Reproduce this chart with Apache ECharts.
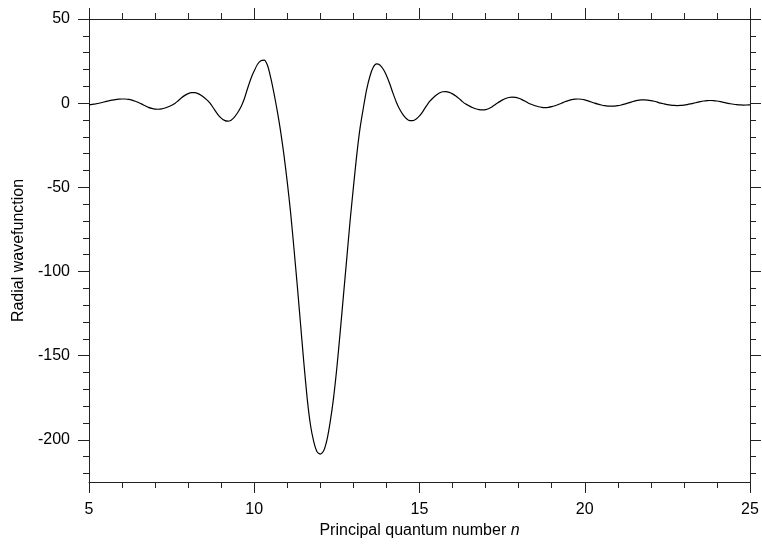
<!DOCTYPE html>
<html>
<head>
<meta charset="utf-8">
<script src="https://cdn.jsdelivr.net/npm/echarts@6/dist/echarts.min.js"></script>
<style>
  html, body { margin: 0; padding: 0; background: #fff; }
  #chart { width: 762px; height: 544px; }
</style>
</head>
<body>
<div id="chart"></div>
<script>
// Principal quantum number n: 5.0 .. 25.0 in steps of 0.1 (201 samples)
var nStart = 5.0;
var nStep = 0.1;
// Radial wavefunction values, one per n sample
var psiValues = [
  // 5.0 - 5.9
  -1.0, -0.7, -0.4, -0.05, 0.43, 0.95, 1.42, 1.82, 2.15, 2.37,
  // 6.0 - 6.9
  2.49, 2.47, 2.23, 1.77, 1.13, 0.39, -0.54, -1.57, -2.47, -3.13,
  // 7.0 - 7.9
  -3.52, -3.59, -3.36, -2.85, -2.12, -1.21, -0.2, 1.48, 3.2, 4.64,
  // 8.0 - 8.9
  5.69, 6.23, 6.23, 5.66, 4.59, 3.1, 1.33, -0.95, -4.02, -6.74,
  // 9.0 - 9.9
  -8.87, -10.23, -10.7, -10.08, -8.3, -5.56, -2.17, 2.6, 8.9, 14.7,
  // 10.0 - 10.9
  19.2, 23.1, 25.2, 25.6, 22.5, 15.0, 5.5, -5.0, -17.0, -31.0,
  // 11.0 - 11.9
  -47, -65, -86, -108, -131, -154, -175, -191, -201, -207,
  // 12.0 - 12.9
  -208.5, -206.5, -200, -189, -175, -157, -136, -114, -92, -70,
  // 13.0 - 13.9
  -50, -31, -15, -3, 8, 16, 21.3, 23.3, 22.7, 20.3,
  // 14.0 - 14.9
  16.5, 11.5, 5.8, 0.6, -3.6, -6.75, -9.1, -10.34, -10.4, -9.4,
  // 15.0 - 15.9
  -7.54, -4.97, -1.93, 0.86, 2.94, 4.72, 6.05, 6.78, 6.86, 6.43,
  // 16.0 - 16.9
  5.54, 4.26, 2.69, 0.92, -0.55, -1.6, -2.54, -3.28, -3.78, -3.99,
  // 17.0 - 17.9
  -3.83, -3.16, -2.08, -0.72, 0.63, 1.8, 2.76, 3.38, 3.6, 3.42,
  // 18.0 - 18.9
  2.91, 2.12, 1.11, 0, -0.82, -1.55, -2.13, -2.49, -2.6, -2.45,
  // 19.0 - 19.9
  -2.07, -1.5, -0.79, 0, 0.82, 1.55, 2.1, 2.43, 2.49, 2.32,
  // 20.0 - 20.9
  1.94, 1.4, 0.73, 0, -0.56, -1.06, -1.46, -1.71, -1.8, -1.71,
  // 21.0 - 21.9
  -1.46, -1.06, -0.56, 0, 0.64, 1.22, 1.66, 1.93, 2.0, 1.87,
  // 22.0 - 22.9
  1.57, 1.14, 0.6, 0, -0.42, -0.81, -1.12, -1.32, -1.4, -1.33,
  // 23.0 - 23.9
  -1.13, -0.82, -0.44, 0, 0.49, 0.94, 1.29, 1.52, 1.6, 1.52,
  // 24.0 - 24.9
  1.29, 0.94, 0.49, 0, -0.34, -0.65, -0.89, -1.05, -1.1, -1.07,
  // 25.0
  -1.0
];
var xTicks = [5, 10, 15, 20, 25];
var yMajorTicks = [-200, -150, -100, -50, 0, 50];
var yMinorTicks = [-220, -210, -190, -180, -170, -160, -140, -130, -120, -110, -90, -80, -70, -60,
  -40, -30, -20, -10, 10, 20, 30, 40];

var FONT = '"Liberation Sans", Arial, Helvetica, sans-serif';
var AX = '#222';

var data = psiValues.map(function (v, i) {
  return [Math.round((nStart + i * nStep) * 10) / 10, v];
});

function xAx(pos, showLabel) {
  return {
    type: 'value', position: pos, min: xTicks[0], max: xTicks[xTicks.length - 1], interval: 5,
    axisLine: { show: true, onZero: false, lineStyle: { color: AX, width: 1 } },
    axisTick: { show: true, inside: false, length: 11, lineStyle: { color: AX, width: 1 } },
    minorTick: { show: true, splitNumber: 5, length: 6, lineStyle: { color: AX, width: 1 } },
    splitLine: { show: false }, minorSplitLine: { show: false },
    axisLabel: { show: showLabel, fontSize: 16, color: '#000', fontFamily: FONT, margin: 20 },
    name: showLabel ? 'Principal quantum number {i|n}' : '',
    nameLocation: 'middle', nameGap: 40,
    nameTextStyle: { fontSize: 16, color: '#000', fontFamily: FONT,
      rich: { i: { fontStyle: 'italic', fontSize: 16, color: '#000', fontFamily: FONT } } }
  };
}
function yAx(pos, ticks, len, showLabel, name) {
  return {
    type: 'value', position: pos, min: -225, max: 50,
    axisLine: { show: true, onZero: false, lineStyle: { color: AX, width: 1 } },
    axisTick: { show: true, inside: false, length: len, customValues: ticks, lineStyle: { color: AX, width: 1 } },
    splitLine: { show: false },
    axisLabel: { show: showLabel, customValues: ticks, fontSize: 16, color: '#000', fontFamily: FONT, margin: 19 },
    name: name || '', nameLocation: 'middle', nameGap: 58,
    nameTextStyle: { fontSize: 16, color: '#000', fontFamily: FONT }
  };
}

var chart = echarts.init(document.getElementById('chart'), null, { renderer: 'canvas' });
chart.setOption({
  backgroundColor: '#fff',
  animation: false,
  grid: { left: 89, right: 12, top: 19, bottom: 62, containLabel: false },
  xAxis: [xAx('bottom', true), xAx('top', false)],
  yAxis: [
    yAx('left', yMajorTicks, 11, true, 'Radial wavefunction'),
    yAx('left', yMinorTicks, 6, false),
    yAx('right', yMajorTicks, 11, false),
    yAx('right', yMinorTicks, 6, false)
  ],
  series: [{
    type: 'line', xAxisIndex: 0, yAxisIndex: 0,
    data: data, showSymbol: false, smooth: 0.25,
    lineStyle: { color: '#000', width: 1.2 }
  }]
});
</script>
</body>
</html>
